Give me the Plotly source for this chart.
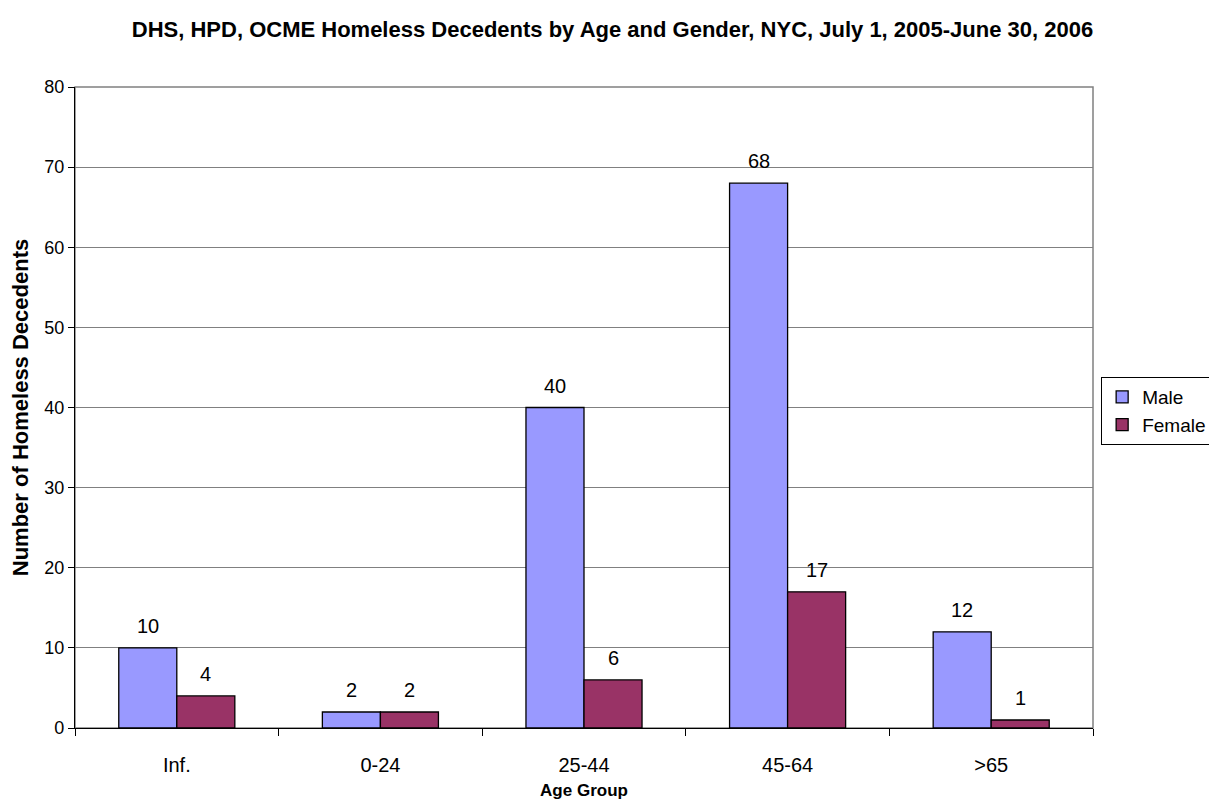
import plotly.graph_objects as go

age_groups = ["Inf.", "0-24", "25-44", "45-64", ">65"]
male = [10, 2, 40, 68, 12]
female = [4, 2, 6, 17, 1]

MALE_COLOR = "#9999FF"
FEMALE_COLOR = "#993366"
FONT = "Liberation Sans, Arial, sans-serif"

fig = go.Figure()
series = [("Male", male, MALE_COLOR, -29), ("Female", female, FEMALE_COLOR, 29)]
for name, vals, color, _ in series:
    fig.add_trace(
        go.Bar(
            x=age_groups,
            y=vals,
            name=name,
            marker={"color": color, "line": {"color": "#000000", "width": 1.3}},
        )
    )

# value labels sit a bit higher above the bars than plotly's outside text
annotations = []
for name, vals, color, dx in series:
    for cat, v in zip(age_groups, vals):
        annotations.append(
            {
                "x": cat,
                "y": v,
                "xref": "x",
                "yref": "y",
                "text": str(v),
                "showarrow": False,
                "xshift": dx,
                "yanchor": "bottom",
                "yshift": 9,
                "font": {"size": 20, "color": "#000000", "family": FONT},
            }
        )

# page has an 8px body margin, so the figure is a bit smaller than the window
fig.update_layout(
    barmode="group",
    bargap=0.43,
    bargroupgap=0,
    width=1209,
    height=796,
    margin={"l": 67, "r": 124, "t": 79, "b": 76, "autoexpand": False},
    paper_bgcolor="#ffffff",
    plot_bgcolor="#ffffff",
    font={"family": FONT, "color": "#000000", "size": 18},
    title={
        "text": "<b>DHS, HPD, OCME Homeless Decedents by Age and Gender, NYC, July 1, 2005-June 30, 2006</b>",
        "x": 0.5,
        "xanchor": "center",
        "y": 0.973,
        "yanchor": "middle",
        "font": {"size": 22, "family": FONT, "color": "#000000"},
    },
    legend={
        "x": 1.008,
        "xanchor": "left",
        "y": 0.4945,
        "yanchor": "middle",
        "bordercolor": "#000000",
        "borderwidth": 1,
        "font": {"size": 19, "family": FONT},
        "itemwidth": 30,
        "tracegroupgap": 0,
    },
    showlegend=True,
    annotations=annotations,
    shapes=[
        {
            "type": "rect",
            "xref": "paper",
            "yref": "paper",
            "x0": 0,
            "x1": 1,
            "y0": 0,
            "y1": 1,
            "line": {"color": "#808080", "width": 1.5},
            "layer": "below",
        }
    ],
)

fig.update_xaxes(
    showline=True,
    linecolor="#000000",
    linewidth=1.3,
    ticks="outside",
    tickson="boundaries",
    ticklen=7,
    tickcolor="#000000",
    ticklabelstandoff=19,
    tickfont={"size": 20},
    title={"text": "<b>Age Group</b>", "font": {"size": 17}, "standoff": 8},
)
fig.update_yaxes(
    range=[0, 80],
    dtick=10,
    showline=True,
    linecolor="#000000",
    linewidth=1.3,
    ticks="outside",
    ticklen=6,
    tickcolor="#000000",
    showgrid=True,
    gridcolor="#808080",
    gridwidth=1,
    zeroline=False,
    tickfont={"size": 18},
    title={"text": "<b>Number of Homeless Decedents</b>", "font": {"size": 22}, "standoff": 12},
)

fig.write_html("out.html")
